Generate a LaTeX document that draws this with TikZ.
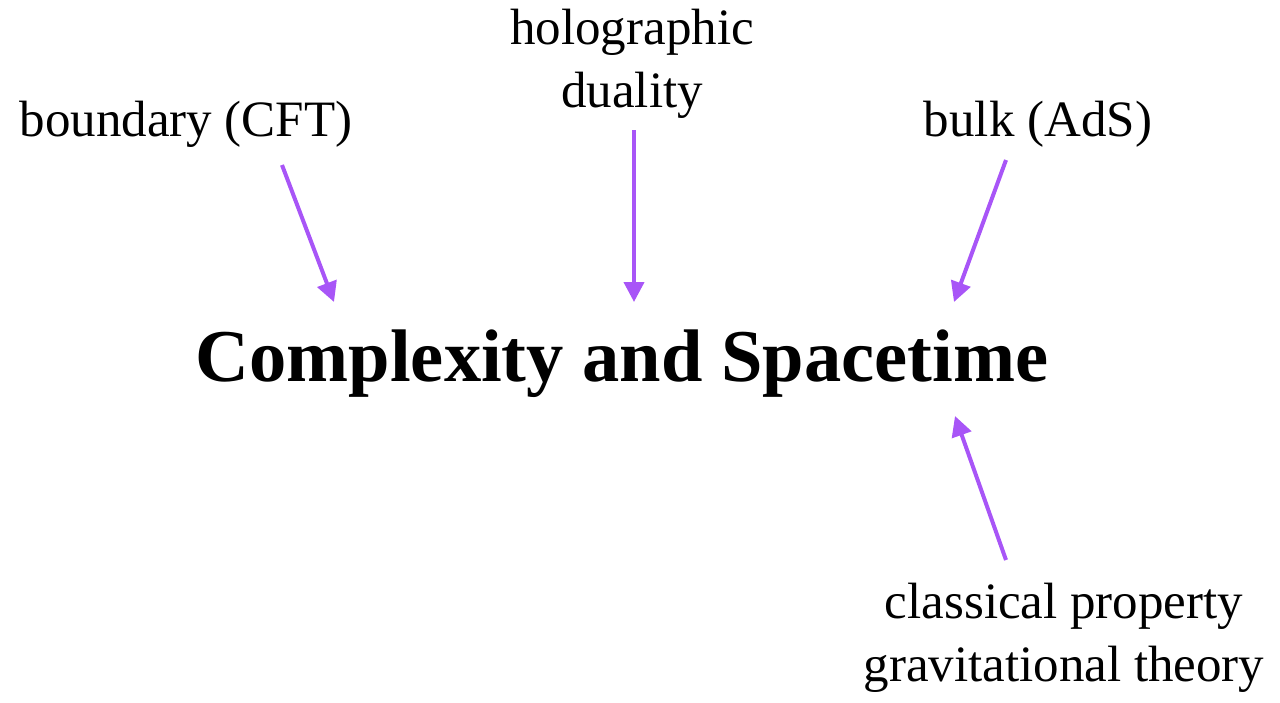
\documentclass[tikz,border=0pt]{standalone}
\usepackage{fontspec}
\setmainfont{Liberation Serif}
\usetikzlibrary{arrows.meta,positioning}
\definecolor{link}{HTML}{A855F7}

\begin{document}
\begin{tikzpicture}[x=1pt,y=-1pt,
  lbl/.style={font=\fontsize{51}{63}\selectfont,align=center,inner sep=0pt},
  linkarrow/.style={link,line width=4pt,-{Triangle[length=20pt,width=20pt]}}]
  \useasboundingbox (0,0) rectangle (1280,702);

  % central title
  \node[font=\fontsize{74.5}{80}\selectfont\bfseries,inner sep=0pt] (title) at (622,364) {Complexity and Spacetime};

  % labels
  \node[lbl] (bnd) at (186,124) {boundary (CFT)};
  \node[lbl] (holo) at (632,64) {holographic\\duality};
  \node[lbl] (bulk) at (1038,124) {bulk (AdS)};
  \node[lbl] (grav) at (1064,638) {classical property\\gravitational theory};

  % arrow ends
  \coordinate (bndFoot) at (282,165);
  \coordinate (bndTip) at (334,302);
  \coordinate (holoFoot) at (634,130);
  \coordinate (holoTip) at (634,302);
  \coordinate (bulkFoot) at (1006,160);
  \coordinate (bulkTip) at (954,302);
  \coordinate (gravFoot) at (1006,560);
  \coordinate (gravTip) at (955,416);

  % arrows
  \draw[linkarrow] (bndFoot) -- (bndTip);
  \draw[linkarrow] (holoFoot) -- (holoTip);
  \draw[linkarrow] (bulkFoot) -- (bulkTip);
  \draw[linkarrow] (gravFoot) -- (gravTip);
\end{tikzpicture}
\end{document}
